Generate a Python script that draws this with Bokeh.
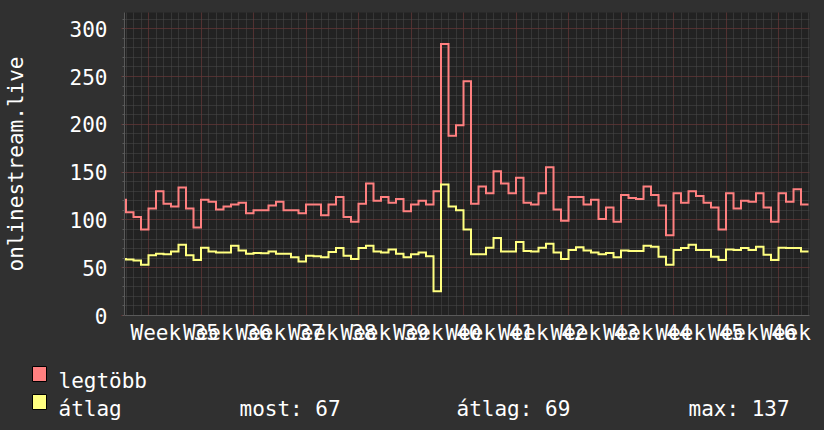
import numpy as np
from bokeh.plotting import figure
from bokeh.layouts import column, row
from bokeh.models import (Range1d, FixedTicker, LinearAxis, Label, BoxAnnotation,
                          GlobalInlineStyleSheet)
from bokeh.embed import file_html
from bokeh.resources import INLINE

# ---- data (daily values, day 0 = start of week 35) ----
days = list(range(-4, 88))
legtobb = [121, 108, 103, 90,
           112, 130, 117, 114, 134, 112, 92,
           121, 119, 111, 114, 116, 118, 107,
           110, 110, 115, 119, 110, 110, 107,
           116, 116, 105, 116, 124, 103, 98,
           117, 138, 120, 124, 118, 122, 109,
           116, 120, 116, 130, 284, 188, 199,
           245, 117, 135, 128, 151, 138, 128,
           144, 118, 116, 128, 155, 111, 99,
           124, 124, 116, 121, 101, 113, 98,
           126, 123, 122, 135, 126, 115, 84,
           128, 118, 130, 125, 118, 113, 90,
           128, 112, 120, 119, 128, 113, 98,
           128, 119, 132, 116]
atlag = [59, 58.5, 57.5, 53,
         63, 64.5, 64, 67, 74, 63, 58,
         71, 67, 66, 66, 73, 68, 64.5,
         65.5, 65, 67, 64.5, 64.5, 61, 56.5,
         62.5, 62, 61, 66.5, 70.5, 62.5, 59,
         70.5, 73, 67, 66, 69, 64.5, 61,
         64, 66, 62, 25.5, 137, 114, 110,
         90, 64, 64, 71, 81, 67, 67,
         77, 67.5, 67, 71, 75, 66, 59,
         68.5, 71.5, 68, 66, 64, 65.5, 61,
         68, 67.5, 67.5, 73, 72, 61.5, 53,
         68.5, 70.5, 74, 68.5, 68.5, 61.5, 58,
         69, 68.5, 70.5, 68.5, 72, 63.5, 58,
         71, 70.5, 70.5, 67]
week_numbers = list(range(35, 47))
week_starts = [7 * i for i in range(13)]
week_labels = [f"Week {n}" for n in week_numbers] + ["Week"]
y_ticks = [0, 50, 100, 150, 200, 250, 300]
y_minor = list(range(0, 320, 10))
series_names = ["legtöbb", "átlag"]
stats = ["most: 67", "átlag: 69", "max: 137"]
title = "onlinestream.live"

RED = "#ff8080"
YEL = "#ffff80"
BG = "#303030"
FONT = "DejaVu Sans Mono"
FS = "21px"

X0, X1 = -3.2, 88.13
PXD = 7.5
TOP_H = 350  # height of the chart part; the legend strip fills the rest

p = figure(width=824, height=TOP_H, frame_width=685, frame_height=303,
           x_range=Range1d(X0, X1), y_range=Range1d(0, 317),
           output_backend="svg", toolbar_location=None, x_axis_location=None,
           min_border_left=124, min_border_right=15, min_border_top=12,
           min_border_bottom=TOP_H - 315,
           background_fill_color="#222222", border_fill_color=BG,
           outline_line_color=None)

# grids
p.xgrid.ticker = FixedTicker(ticks=week_starts, minor_ticks=list(range(-3, 89)))
p.ygrid.ticker = FixedTicker(ticks=y_ticks, minor_ticks=y_minor)
for g in (p.xgrid, p.ygrid):
    g.grid_line_color = "#6e2c2c"
    g.grid_line_dash = "1 1"
    g.grid_line_width = 1
    g.minor_grid_line_color = "#4a4a4a"
    g.minor_grid_line_dash = "1 1"
    g.minor_grid_line_width = 1

# y axis with title
ya = p.yaxis[0]
ya.ticker = FixedTicker(ticks=y_ticks, minor_ticks=y_minor)
ya.axis_line_color = "#5a5a5a"
ya.major_tick_line_color = "#6e2c2c"
ya.minor_tick_line_color = "#5a5a5a"
ya.major_tick_in = 0
ya.major_tick_out = 3
ya.minor_tick_in = 0
ya.minor_tick_out = 2
ya.major_label_standoff = 14
ya.major_label_text_font = FONT
ya.major_label_text_font_size = FS
ya.major_label_text_color = "white"
ya.axis_label = title
ya.axis_label_text_font = FONT
ya.axis_label_text_font_size = FS
ya.axis_label_text_font_style = "normal"
ya.axis_label_text_color = "white"
ya.axis_label_standoff = 39

# x axis: labels centred on mid-week; the last one only shows "Week"
mids = [w + 3.5 for w in week_starts[:12]] + [(785 - 124) / PXD + X0]
lab_ax = LinearAxis(ticker=FixedTicker(ticks=mids),
                    major_label_overrides={m: t for m, t in zip(mids, week_labels)},
                    axis_line_color="#5a5a5a", major_tick_line_color=None,
                    minor_tick_line_color=None, major_tick_in=0, major_tick_out=0,
                    major_label_standoff=5, major_label_text_font=FONT,
                    major_label_text_font_size=FS, major_label_text_color="white")
p.add_layout(lab_ax, "below")

# step lines built from the daily values
edges = np.array(days + [days[-1] + 1], dtype=float)
xs = np.repeat(edges, 2)[1:-1]
p.line(xs, np.repeat(np.array(legtobb, dtype=float), 2), line_color=RED,
       line_width=2, line_join="miter")
p.line(xs, np.repeat(np.array(atlag, dtype=float), 2), line_color=YEL,
       line_width=2, line_join="miter")

# legend strip (pixel coordinates of the whole picture, y downwards)
lg = figure(width=824, height=430 - TOP_H, x_range=Range1d(0, 824),
            y_range=Range1d(430, TOP_H),
            output_backend="svg", toolbar_location=None, x_axis_location=None,
            y_axis_location=None, min_border=0, background_fill_color=BG,
            border_fill_color=BG, outline_line_color=None)
lg.xgrid.visible = False
lg.ygrid.visible = False
for i, (name, col) in enumerate(zip(series_names, [RED, YEL])):
    top_px = 366 + 28 * i
    lg.add_layout(BoxAnnotation(left=32, right=46, top=top_px, bottom=top_px + 15,
                                fill_color=col, fill_alpha=1, line_color="black",
                                line_width=1, line_alpha=1))
    lg.add_layout(Label(x=58, y=380 + 28 * i, text=name, text_font=FONT,
                        text_font_size=FS, text_color="white",
                        text_baseline="alphabetic"))
for px, s in zip([239, 456, 688], stats):
    lg.add_layout(Label(x=px, y=408, text=s, text_font=FONT, text_font_size=FS,
                        text_color="white", text_baseline="alphabetic"))

layout = column(p, row(lg), spacing=0)
layout.stylesheets = [GlobalInlineStyleSheet(css="body { background-color: #303030; }")]

open("out.html", "w").write(file_html(layout, INLINE))
